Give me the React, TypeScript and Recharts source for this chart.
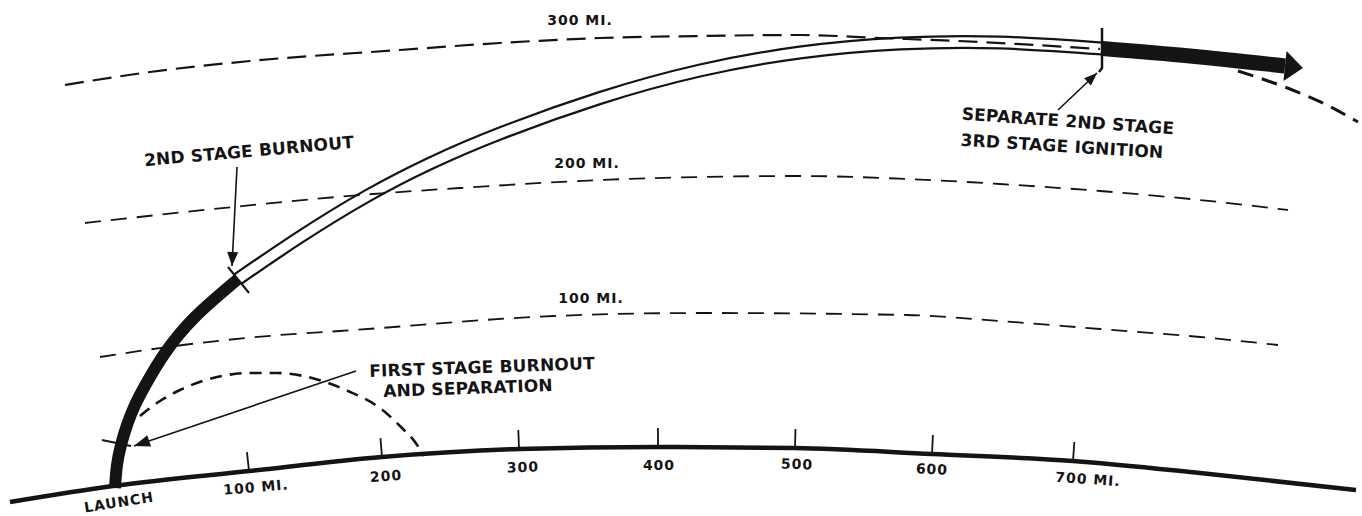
import { ComposedChart, Line, Scatter, XAxis, YAxis } from "recharts";

const W = 1362;
const H = 516;
const INK = "#141414";

// drawing units: 1 unit = 1 px, y measured downward (y axis reversed)
const groundPath = [
  { x: 10, y: 502 }, { x: 113, y: 486 }, { x: 249, y: 471 }, { x: 382, y: 457 },
  { x: 519, y: 449 }, { x: 658, y: 447 }, { x: 795, y: 448 }, { x: 932, y: 454 },
  { x: 1073, y: 461 }, { x: 1200, y: 473 }, { x: 1356, y: 490 },
];
const mileTicks = [
  { x: 249, y: 471 }, { x: 382, y: 457 }, { x: 519, y: 449 }, { x: 658, y: 447 },
  { x: 795, y: 448 }, { x: 932, y: 454 }, { x: 1073, y: 461 },
];

const alt100 = [
  { x: 100, y: 357 }, { x: 183, y: 345 }, { x: 280, y: 335 }, { x: 340, y: 331 },
  { x: 554, y: 316 }, { x: 700, y: 313 }, { x: 907, y: 315 }, { x: 1000, y: 321 },
  { x: 1100, y: 329 }, { x: 1200, y: 337 }, { x: 1278, y: 345 },
];
const alt200 = [
  { x: 85, y: 223 }, { x: 233, y: 207 }, { x: 360, y: 195 }, { x: 460, y: 188 },
  { x: 600, y: 180 }, { x: 700, y: 177 }, { x: 800, y: 176 }, { x: 907, y: 179 },
  { x: 1000, y: 184 }, { x: 1100, y: 191 }, { x: 1200, y: 200 }, { x: 1288, y: 210 },
];
const alt300 = [
  { x: 65, y: 85 }, { x: 150, y: 72 }, { x: 250, y: 61 }, { x: 400, y: 50 },
  { x: 500, y: 43 }, { x: 600, y: 38 }, { x: 700, y: 36 }, { x: 800, y: 35 },
  { x: 880, y: 38 }, { x: 980, y: 42 }, { x: 1100, y: 49 },
];
const coastPath = [
  { x: 1238, y: 71 }, { x: 1290, y: 89 }, { x: 1325, y: 104 }, { x: 1358, y: 122 },
];

const firstStage = [
  { x: 115, y: 488 }, { x: 117, y: 465 }, { x: 121, y: 445 }, { x: 127, y: 425 },
  { x: 135, y: 405 }, { x: 146, y: 384 }, { x: 165, y: 353 }, { x: 195, y: 317 },
  { x: 238, y: 279 },
];
const secondStage = [
  { x: 238, y: 279 }, { x: 300, y: 237 }, { x: 368, y: 195.5 }, { x: 430, y: 163.5 },
  { x: 500, y: 133.5 }, { x: 600, y: 98 }, { x: 700, y: 70.5 }, { x: 800, y: 52.5 },
  { x: 900, y: 43.5 }, { x: 1000, y: 42.5 }, { x: 1102, y: 48.5 },
];
const thirdStage = [
  { x: 1102, y: 48.5 }, { x: 1190, y: 56 }, { x: 1285, y: 66 },
];
const boosterFall = [
  { x: 140, y: 416 }, { x: 160, y: 401 }, { x: 180, y: 390 }, { x: 222, y: 376 },
  { x: 250, y: 373 }, { x: 277, y: 373 }, { x: 312, y: 378 }, { x: 348, y: 391 },
  { x: 380, y: 408 }, { x: 402, y: 428 }, { x: 415, y: 442 }, { x: 424, y: 456 },
];

const tick1st = [{ x: 102, y: 440 }, { x: 131, y: 446 }];
const tick2nd = [{ x: 228, y: 267 }, { x: 249, y: 293 }];
const tickSep = [{ x: 1102, y: 28 }, { x: 1102, y: 68 }, { x: 1099, y: 72 }];

const ptr1st = [{ x: 356, y: 371 }, { x: 134, y: 446 }];
const ptr2nd = [{ x: 237, y: 167 }, { x: 232, y: 266 }];
const ptrSep = [{ x: 1058, y: 110 }, { x: 1097, y: 73 }];

const notes = [
  { x: 580, y: 20, text: "300 MI.", angle: 0, kind: "small" },
  { x: 587, y: 163, text: "200 MI.", angle: 0, kind: "small" },
  { x: 591, y: 298, text: "100 MI.", angle: 0, kind: "small" },
  { x: 249, y: 151, text: "2ND STAGE BURNOUT", angle: -5, kind: "big" },
  { x: 482, y: 367, text: "FIRST STAGE BURNOUT", angle: -2, kind: "big" },
  { x: 468, y: 388, text: "AND SEPARATION", angle: -2, kind: "big" },
  { x: 1068, y: 121, text: "SEPARATE 2ND STAGE", angle: 4, kind: "big" },
  { x: 1062, y: 146, text: "3RD STAGE IGNITION", angle: 3.5, kind: "big" },
  { x: 119, y: 502, text: "LAUNCH", angle: -9, kind: "small" },
  { x: 256, y: 487, text: "100 MI.", angle: -5, kind: "small" },
  { x: 386, y: 476, text: "200", angle: -4, kind: "small" },
  { x: 523, y: 467, text: "300", angle: -2, kind: "small" },
  { x: 659, y: 465, text: "400", angle: 0, kind: "small" },
  { x: 797, y: 464, text: "500", angle: 2, kind: "small" },
  { x: 932, y: 469, text: "600", angle: 3, kind: "small" },
  { x: 1088, y: 479, text: "700 MI.", angle: 4, kind: "small" },
];

const textStyles: Record<string, any> = {
  big: { fontSize: 17, letterSpacing: 0.2 },
  small: { fontSize: 14, letterSpacing: 1 },
};

type P = { x: number; y: number };

function headOf(pts: P[], len: number, half: number, beyond = 0) {
  const a = pts[pts.length - 2];
  const b = pts[pts.length - 1];
  const ang = Math.atan2(b.y - a.y, b.x - a.x);
  return {
    x: b.x + beyond * Math.cos(ang),
    y: b.y + beyond * Math.sin(ang),
    angle: ang,
    len,
    half,
  };
}

const arrowHeads = [
  headOf(ptr1st, 16, 6),
  headOf(ptr2nd, 14, 5.5),
  headOf(ptrSep, 13, 5),
  headOf(thirdStage, 18, 15, 18),
];

function groundTilt(x: number) {
  const prev = [...groundPath].reverse().find((p) => p.x < x) || groundPath[0];
  const next = groundPath.find((p) => p.x > x) || groundPath[groundPath.length - 1];
  return Math.atan2(next.y - prev.y, next.x - prev.x);
}

const ArrowHead = (props: any) => {
  const { cx, cy, payload } = props;
  const { angle, len, half } = payload;
  const c = Math.cos(angle);
  const s = Math.sin(angle);
  const bx = cx - len * c;
  const by = cy - len * s;
  const pts = `${cx},${cy} ${bx - half * s},${by + half * c} ${bx + half * s},${by - half * c}`;
  return <polygon points={pts} fill={INK} />;
};

const MileTick = (props: any) => {
  const { cx, cy, payload } = props;
  const t = groundTilt(payload.x);
  const L = 19;
  return (
    <line
      x1={cx}
      y1={cy}
      x2={cx + L * Math.sin(t)}
      y2={cy - L * Math.cos(t)}
      stroke={INK}
      strokeWidth={1.8}
    />
  );
};

const Note = (props: any) => {
  const { cx, cy, payload } = props;
  return (
    <text
      x={cx}
      y={cy}
      textAnchor="middle"
      dominantBaseline="central"
      transform={`rotate(${payload.angle} ${cx} ${cy})`}
      fill={INK}
      fontFamily="DejaVu Sans, sans-serif"
      fontWeight="bold"
      {...textStyles[payload.kind]}
    >
      {payload.text}
    </text>
  );
};

const common = { dataKey: "y", dot: false, isAnimationActive: false, activeDot: false } as const;

export default function App() {
  return (
    <div style={{ position: "fixed", left: 0, top: 0, width: W, height: H, background: "#fff" }}>
      <ComposedChart width={W} height={H} margin={{ top: 0, right: 0, bottom: 0, left: 0 }}>
        <XAxis type="number" dataKey="x" domain={[0, W]} hide height={0} allowDataOverflow />
        <YAxis type="number" dataKey="y" domain={[0, H]} reversed hide width={0} allowDataOverflow />

        {/* second stage: double line */}
        <Line {...common} data={secondStage} type="natural" stroke={INK} strokeWidth={14} strokeLinecap="butt" />
        <Line {...common} data={secondStage} type="natural" stroke="#fff" strokeWidth={9.5} strokeLinecap="butt" />

        {/* altitude circles */}
        <Line {...common} data={alt300} type="monotoneX" stroke={INK} strokeWidth={2.2} strokeDasharray="19 9" />
        <Line {...common} data={alt200} type="monotoneX" stroke={INK} strokeWidth={1.8} strokeDasharray="16 10" />
        <Line {...common} data={alt100} type="monotoneX" stroke={INK} strokeWidth={1.8} strokeDasharray="16 10" />
        <Line {...common} data={coastPath} type="monotoneX" stroke={INK} strokeWidth={3} strokeDasharray="16 9" />

        {/* first stage fall-back */}
        <Line {...common} data={boosterFall} type="monotoneX" stroke={INK} strokeWidth={2.6} strokeDasharray="12 8" />

        {/* powered first stage and third stage */}
        <Line {...common} data={firstStage} type="natural" stroke={INK} strokeWidth={12} strokeLinecap="butt" />
        <Line {...common} data={thirdStage} type="monotoneX" stroke={INK} strokeWidth={15} strokeLinecap="butt" />

        {/* earth */}
        <Line {...common} data={groundPath} type="monotoneX" stroke={INK} strokeWidth={4.5} />

        {/* event marks and pointers */}
        <Line {...common} data={tick1st} type="linear" stroke={INK} strokeWidth={2} />
        <Line {...common} data={tick2nd} type="linear" stroke={INK} strokeWidth={2} />
        <Line {...common} data={tickSep} type="linear" stroke={INK} strokeWidth={2.5} />
        <Line {...common} data={ptr1st} type="linear" stroke={INK} strokeWidth={1.6} />
        <Line {...common} data={ptr2nd} type="linear" stroke={INK} strokeWidth={1.6} />
        <Line {...common} data={ptrSep} type="linear" stroke={INK} strokeWidth={1.6} />

        <Scatter data={arrowHeads} dataKey="y" shape={(p: any) => <ArrowHead {...p} />} isAnimationActive={false} />
        <Scatter data={mileTicks} dataKey="y" shape={(p: any) => <MileTick {...p} />} isAnimationActive={false} />
        <Scatter data={notes} dataKey="y" shape={(p: any) => <Note {...p} />} isAnimationActive={false} />
      </ComposedChart>
    </div>
  );
}
